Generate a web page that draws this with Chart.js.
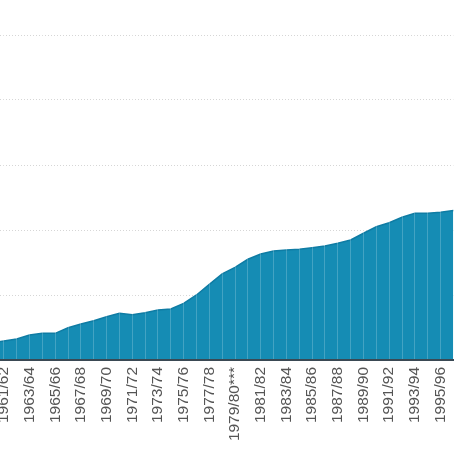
<!DOCTYPE html>
<html>
<head>
<meta charset="utf-8">
<script src="https://cdn.jsdelivr.net/npm/chart.js@4/dist/chart.umd.min.js"></script>
<style>
  html, body { margin: 0; padding: 0; background: #fff; overflow: hidden; width: 454px; height: 454px; }
  #wrap { position: absolute; top: 0; left: -59px; width: 538px; height: 454px; }
</style>
</head>
<body>
<div id="wrap"><canvas id="chart"></canvas></div>
<script>
// ---- DATA ----
const years = [
  '1960/61', '1961/62', '1962/63', '1963/64', '1964/65', '1965/66', '1966/67', '1967/68',
  '1968/69', '1969/70', '1970/71', '1971/72', '1972/73', '1973/74', '1974/75', '1975/76',
  '1976/77', '1977/78', '1978/79', '1979/80***', '1980/81', '1981/82', '1982/83', '1983/84',
  '1984/85', '1985/86', '1986/87', '1987/88', '1988/89', '1989/90', '1990/91', '1991/92',
  '1992/93', '1993/94', '1994/95', '1995/96', '1996/97'
];
const values = [
  13.1, 14.6, 16.2, 19.2, 20.5, 20.5, 24.8, 27.7,
  30.2, 33.3, 35.9, 34.8, 36.4, 38.5, 39.2, 43.6,
  50.0, 58.2, 66.2, 71.3, 77.5, 81.5, 83.8, 84.6,
  85.2, 86.4, 87.7, 89.8, 92.3, 97.5, 102.5, 105.6,
  109.8, 112.8, 112.8, 113.6, 115.0
];
const yTicks = [0, 50, 100, 150, 200, 250];

// ---- CHART ----
new Chart(document.getElementById('chart'), {
  type: 'line',
  data: {
    labels: years,
    datasets: [{
      data: values,
      fill: 'origin',
      backgroundColor: '#158cb4',
      borderColor: '#0f7ca4',
      borderWidth: 1.5,
      pointRadius: 0,
      tension: 0,
    }]
  },
  options: {
    responsive: true,
    maintainAspectRatio: false,
    animation: false,
    layout: { padding: { top: 35, left: 10, right: 20, bottom: 0 } },
    plugins: { legend: { display: false }, tooltip: { enabled: false } },
    scales: {
      x: {
        offset: false,
        afterFit: s => { s.height = 94; },
        grid: { color: 'rgba(255,255,255,0.2)', lineWidth: 1, drawTicks: false, z: 1 },
        border: { display: true, color: '#3a4954', width: 2, z: 2 },
        ticks: {
          autoSkip: false,
          minRotation: 90,
          maxRotation: 90,
          padding: 7,
          color: '#555',
          font: { family: 'Liberation Sans, Arial, sans-serif', size: 15.5 },
          callback: (v, i) => i % 2 === 1 ? years[i] : ''
        }
      },
      y: {
        min: yTicks[0],
        max: yTicks[yTicks.length - 1],
        afterFit: s => { s.width = 40; },
        afterBuildTicks: s => { s.ticks = yTicks.map(v => ({ value: v })); },
        grid: { color: '#d6d6d6', lineWidth: 1, drawTicks: false },
        border: { display: false, dash: [1, 2] },
        ticks: { display: false }
      }
    }
  }
});
</script>
</body>
</html>
